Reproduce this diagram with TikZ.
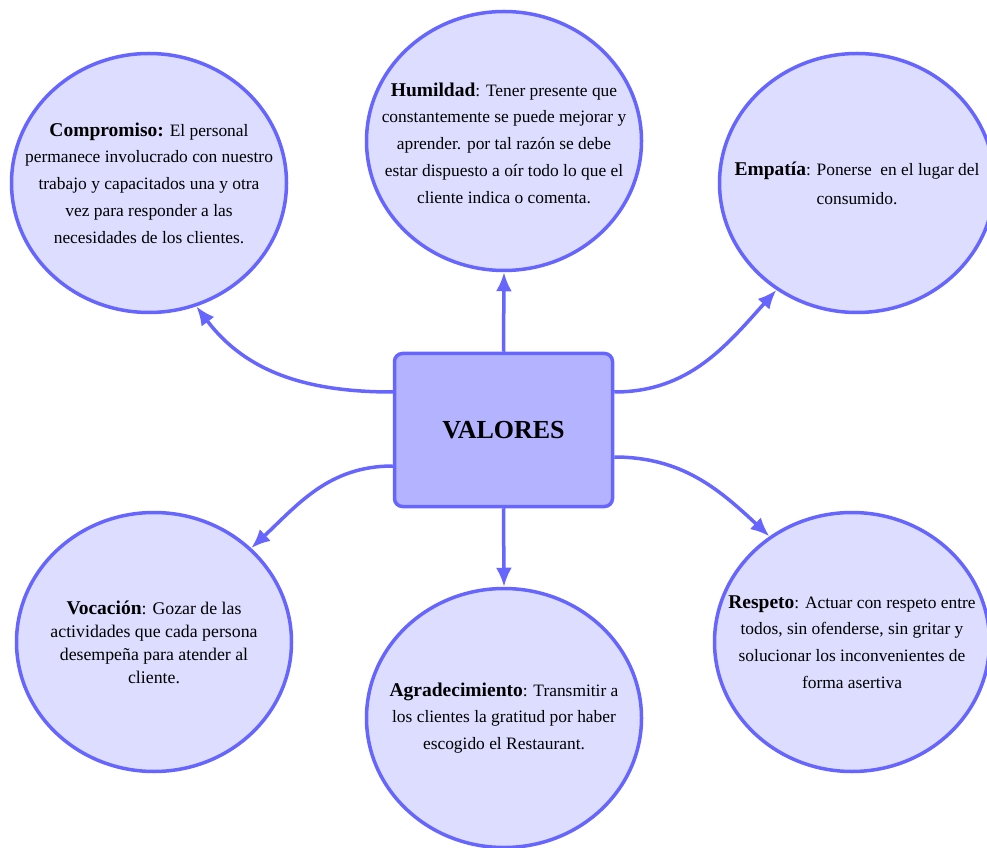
\documentclass[tikz,border=0pt]{standalone}
\usepackage{fontspec}
\setmainfont{Liberation Serif}
\usetikzlibrary{shapes.geometric,arrows.meta}
\definecolor{edgeblue}{RGB}{102,102,255}
\definecolor{cfill}{RGB}{221,221,255}
\definecolor{rfill}{RGB}{179,179,255}
\newcommand\kwd[1]{{\fontsize{19.5}{26.7}\selectfont\bfseries #1}}
\begin{document}
\begin{tikzpicture}[x=1pt,y=1pt,
  bubble/.style={ellipse,draw=edgeblue,fill=cfill,line width=3.5pt,minimum width=275pt,minimum height=259pt,inner sep=0pt},
  txt/.style={align=center,font=\fontsize{17.4}{26.7}\selectfont,text=black,inner sep=0pt},
  hub/.style={draw=edgeblue,fill=rfill,line width=3.5pt,rounded corners=8pt,minimum width=218pt,minimum height=153pt,font=\fontsize{26}{30}\selectfont\bfseries},
  conn/.style={draw=edgeblue,line width=3.5pt,-{Latex[length=19pt,width=16pt]}}]
\useasboundingbox (0,0) rectangle (987,847);
\fill[white] (0,0) rectangle (987,847);

\node[hub] (v) at (503.5,417) {VALORES};

\node[bubble] (comp) at (149,664) {};
\node[bubble] (hum) at (504,706) {};
\node[bubble] (emp) at (857,664) {};
\node[bubble] (voc) at (154,205) {};
\node[bubble] (agr) at (504,129) {};
\node[bubble] (res) at (852,205) {};

\node[txt] (compT) at (comp.center) {\kwd{Compromiso:} El personal\\permanece involucrado con nuestro\\trabajo y capacitados una y otra\\vez para responder a las\\necesidades de los clientes.};
\node[txt] (humT) at ([yshift=-2pt]hum.center) {\kwd{Humildad}: Tener presente que\\constantemente se puede mejorar y\\aprender. por tal razón se debe\\estar dispuesto a oír todo lo que el\\cliente indica o comenta.};
\node[txt,font=\fontsize{17.4}{29}\selectfont] (empT) at (emp.center) {\kwd{Empatía}: Ponerse\ \ en el lugar del\\consumido.};
\node[txt,font=\fontsize{17.8}{23}\selectfont] (vocT) at (voc.center) {{\fontsize{19.5}{23}\selectfont\bfseries Vocación}: Gozar de las\\actividades que cada persona\\desempeña para atender al\\cliente.};
\node[txt] (agrT) at (agr.center) {\kwd{Agradecimiento}: Transmitir a\\los clientes la gratitud por haber\\escogido el Restaurant.};
\node[txt] (resT) at (res.center) {\kwd{Respeto}: Actuar con respeto entre\\todos, sin ofenderse, sin gritar y\\solucionar los inconvenientes de\\forma asertiva};

\draw[conn] ([yshift=38pt]v.west) to[out=180,in=-53] (comp.-69);
\draw[conn] (v.north) -- (hum.south);
\draw[conn] ([yshift=38pt]v.east) to[out=0,in=-132] (emp.-127);
\draw[conn] ([yshift=-36pt]v.west) to[out=180,in=43] (voc.44);
\draw[conn] (v.south) -- (agr.north);
\draw[conn] ([yshift=-27pt]v.east) to[out=0,in=137] (res.128);
\end{tikzpicture}
\end{document}
